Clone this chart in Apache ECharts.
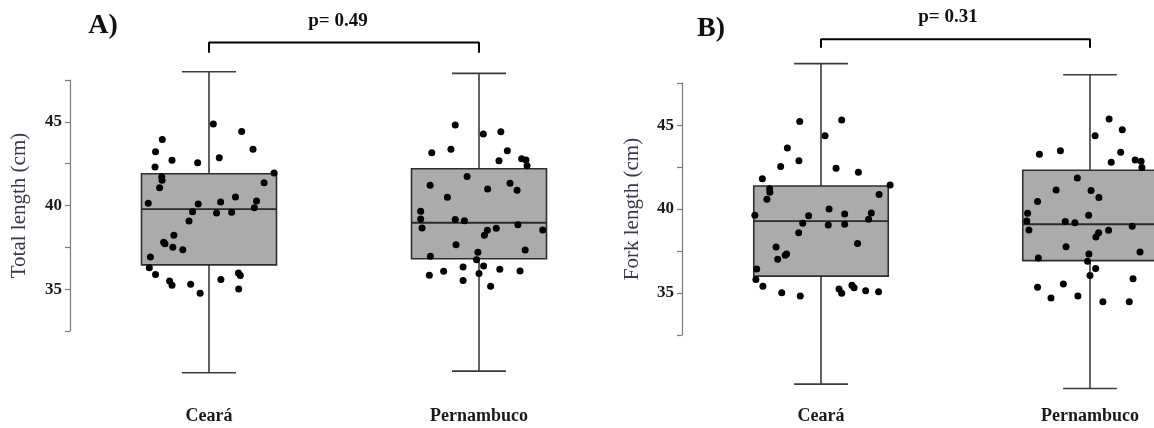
<!DOCTYPE html>
<html>
<head>
<meta charset="utf-8">
<script src="https://cdn.jsdelivr.net/npm/echarts@6/dist/echarts.min.js"></script>
<style>
  html, body { margin: 0; padding: 0; background: #fff; }
  #main { width: 1154px; height: 428px; }
</style>
</head>
<body>
<div id="main"></div>
<script>
// categories and tick labels
var categories = ['Ceará', 'Pernambuco'];
var tickLabels = [35, 40, 45];

// box stats: [min, Q1, median, Q3, max]
var statsTotalCeara = [30.0, 36.45, 39.78, 41.9, 48.0];
var statsTotalPernambuco = [30.1, 36.82, 38.97, 42.2, 47.9];
var statsForkCeara = [29.56, 36.0, 39.28, 41.37, 48.67];
var statsForkPernambuco = [29.3, 36.92, 39.09, 42.31, 48.0];

// individual points (value) and their horizontal jitter (fraction of category band)
var totalCearaValues = [44.87, 44.43, 43.95, 43.36, 43.22, 42.86, 42.70, 42.56, 42.30, 41.94, 41.72, 41.51, 41.36, 41.06, 40.51, 40.13, 40.27, 40.21, 40.09, 39.87, 39.63, 39.55, 39.59, 39.07, 38.22, 37.80, 37.72, 37.50, 37.36, 36.92, 36.28, 35.87, 35.97, 35.81, 35.49, 35.23, 35.29, 35.57, 35.01, 34.76];
var totalCearaJitter = [0.016, 0.121, -0.173, 0.163, -0.198, 0.038, -0.137, -0.042, -0.200, 0.241, -0.175, -0.174, 0.204, -0.183, 0.098, -0.225, 0.176, 0.043, -0.040, 0.168, -0.061, 0.028, 0.084, -0.074, -0.130, -0.168, -0.163, -0.134, -0.097, -0.217, -0.221, -0.198, 0.109, 0.116, -0.146, -0.137, -0.068, 0.044, 0.110, -0.033];

var totalPernambucoValues = [44.81, 44.27, 44.41, 43.15, 43.37, 43.27, 42.68, 42.80, 42.72, 42.38, 41.74, 41.21, 41.33, 40.91, 40.99, 40.49, 39.65, 39.19, 39.17, 39.09, 38.66, 38.85, 38.54, 38.64, 38.52, 38.22, 37.66, 37.34, 37.20, 36.97, 36.76, 36.33, 36.39, 36.07, 35.83, 36.19, 36.09, 35.93, 35.51, 35.17];
var totalPernambucoJitter = [-0.088, 0.016, 0.081, -0.175, -0.104, 0.105, 0.074, 0.158, 0.174, 0.178, -0.044, -0.181, 0.115, 0.141, 0.032, -0.117, -0.216, -0.216, -0.088, -0.054, -0.211, 0.144, 0.236, 0.064, 0.031, 0.020, -0.085, 0.171, -0.004, -0.180, -0.009, -0.059, 0.017, -0.131, -0.184, 0.077, 0.152, 0.000, -0.059, 0.043];

var forkCearaValues = [45.21, 45.31, 44.36, 43.64, 42.88, 42.53, 42.43, 42.19, 41.81, 41.21, 41.00, 40.58, 41.43, 40.86, 39.62, 40.00, 39.60, 39.70, 39.76, 39.39, 39.15, 39.05, 39.09, 38.59, 37.95, 37.73, 37.32, 37.24, 37.00, 36.42, 35.80, 35.39, 35.01, 34.81, 35.23, 34.97, 35.45, 35.30, 35.13, 35.07];
var forkCearaJitter = [-0.079, 0.077, 0.015, -0.125, -0.082, -0.150, 0.056, 0.139, -0.218, -0.191, -0.190, -0.201, 0.257, 0.216, -0.246, 0.030, -0.046, 0.088, 0.187, 0.177, -0.068, 0.027, 0.088, -0.083, 0.136, -0.167, -0.128, -0.133, -0.161, -0.239, -0.242, -0.216, -0.146, -0.077, 0.067, 0.077, 0.115, 0.123, 0.166, 0.214];

var forkPernambucoValues = [45.37, 44.73, 44.37, 43.26, 43.48, 43.38, 42.79, 42.92, 42.84, 42.47, 41.85, 41.13, 41.11, 40.68, 40.44, 39.74, 39.28, 38.75, 39.26, 39.18, 39.62, 38.97, 38.73, 38.59, 38.33, 37.75, 37.43, 37.31, 37.08, 36.88, 36.46, 36.04, 35.84, 35.33, 35.53, 34.69, 34.81, 34.47, 34.47];
var forkPernambucoJitter = [0.071, 0.120, 0.019, -0.188, -0.110, 0.114, 0.079, 0.168, 0.190, 0.193, -0.047, -0.126, 0.004, 0.033, -0.195, -0.232, -0.235, -0.227, -0.092, -0.056, -0.005, 0.157, 0.069, 0.032, 0.022, -0.089, 0.186, -0.004, -0.192, -0.009, 0.021, 0.000, 0.160, -0.195, -0.099, -0.145, -0.045, 0.048, 0.146];

// significance brackets: [tick bottom, bar height]
var bracketTotal = [49.13, 49.75];
var bracketFork = [49.62, 50.12];
var pTotal = 'p= 0.49';
var pFork = 'p= 0.31';

var serif = 'Liberation Serif';

function points(cat, values, jitter) {
    return values.map(function (v, i) { return [cat + jitter[i], v]; });
}
function bracket(b) {
    return [[0, b[0]], [0, b[1]], [1, b[1]], [1, b[0]]];
}

function renderBox(params, api) {
    var x = api.value(0);
    var lo = api.coord([x, api.value(1)]);
    var q1 = api.coord([x, api.value(2)]);
    var md = api.coord([x, api.value(3)]);
    var q3 = api.coord([x, api.value(4)]);
    var hi = api.coord([x, api.value(5)]);
    var unit = api.size([1, 0])[0];
    var bw = unit * 0.25, cw = unit * 0.1;
    var ln = { stroke: '#3a3a3a', lineWidth: 1.6 };
    return {
        type: 'group',
        children: [
            { type: 'line', shape: { x1: lo[0], y1: lo[1], x2: q1[0], y2: q1[1] }, style: ln },
            { type: 'line', shape: { x1: q3[0], y1: q3[1], x2: hi[0], y2: hi[1] }, style: ln },
            { type: 'line', shape: { x1: lo[0] - cw, y1: lo[1], x2: lo[0] + cw, y2: lo[1] }, style: ln },
            { type: 'line', shape: { x1: hi[0] - cw, y1: hi[1], x2: hi[0] + cw, y2: hi[1] }, style: ln },
            { type: 'rect', shape: { x: q3[0] - bw, y: q3[1], width: 2 * bw, height: q1[1] - q3[1] },
              style: { fill: '#ababab', stroke: '#2e2e2e', lineWidth: 1.6 } },
            { type: 'line', shape: { x1: md[0] - bw, y1: md[1], x2: md[0] + bw, y2: md[1] },
              style: { stroke: '#2a2a2a', lineWidth: 1.8 } }
        ]
    };
}

function visibleY(grid, name, gap) {
    return {
        gridIndex: grid, type: 'value', min: 32.5, max: 47.5, interval: 2.5,
        name: name, nameLocation: 'middle', nameRotate: 90, nameGap: gap,
        nameTextStyle: { fontFamily: serif, fontSize: 21, color: '#3c3550' },
        axisLine: { show: true, lineStyle: { color: '#7a7a7a', width: 1.2 } },
        axisTick: { show: true, length: 5, lineStyle: { color: '#7a7a7a', width: 1.2 } },
        axisLabel: {
            margin: 8, fontFamily: serif, fontSize: 17, fontWeight: 'bold', color: '#1a1a1a',
            formatter: function (v) { return tickLabels.indexOf(v) >= 0 ? String(v) : ''; }
        },
        splitLine: { show: false }
    };
}
function hiddenY(grid) {
    return { gridIndex: grid, type: 'value', min: 29, max: 51, show: false, splitLine: { show: false } };
}
function hiddenValueX(grid) {
    return { gridIndex: grid, type: 'value', min: -0.5, max: 1.5, show: false, splitLine: { show: false } };
}
function catX(grid, margin) {
    return {
        gridIndex: grid, type: 'category', data: categories,
        axisLine: { show: false }, axisTick: { show: false },
        axisLabel: { margin: margin, fontFamily: serif, fontSize: 18, fontWeight: 'bold', color: '#1a1a1a' }
    };
}
function boxSeries(xi, yi, a, b) {
    return {
        type: 'custom', xAxisIndex: xi, yAxisIndex: yi, clip: false, z: 2,
        renderItem: renderBox, encode: { x: 0, y: [1, 2, 3, 4, 5] },
        data: [[0].concat(a), [1].concat(b)]
    };
}
function dotSeries(xi, yi, data) {
    return {
        type: 'scatter', xAxisIndex: xi, yAxisIndex: yi, symbolSize: 7, z: 3,
        itemStyle: { color: '#000', opacity: 1 }, data: data
    };
}
function bracketSeries(xi, yi, b) {
    return {
        type: 'line', xAxisIndex: xi, yAxisIndex: yi, symbol: 'none', clip: false,
        lineStyle: { color: '#000', width: 2 }, data: bracket(b)
    };
}
function label(text, x, y, size) {
    return {
        type: 'text', x: x, y: y,
        style: { text: text, fontFamily: serif, fontSize: size, fontWeight: 'bold', fill: '#111',
                 align: 'center', verticalAlign: 'middle' }
    };
}

function grid(left, top, width, height) {
    return { left: left, top: top, width: width, height: height, outerBoundsMode: 'none', containLabel: false };
}

var chart = echarts.init(document.getElementById('main'));
var option = {
    backgroundColor: '#fff',
    animation: false,
    grid: [
        grid(70, 80, 10, 251),
        grid(74, 21.5, 540, 368),
        grid(682, 83.2, 10, 251.6),
        grid(686.5, 24.5, 538, 369)
    ],
    xAxis: [
        { gridIndex: 0, type: 'value', show: false },
        catX(1, 18),
        hiddenValueX(1),
        { gridIndex: 2, type: 'value', show: false },
        catX(3, 14),
        hiddenValueX(3)
    ],
    yAxis: [
        visibleY(0, 'Total length (cm)', 40),
        hiddenY(1),
        visibleY(2, 'Fork length (cm)', 39),
        hiddenY(3)
    ],
    graphic: [
        label('A)', 103, 26, 28),
        label('B)', 711, 29, 28),
        label(pTotal, 338, 21, 19),
        label(pFork, 948, 17, 19)
    ],
    series: [
        boxSeries(2, 1, statsTotalCeara, statsTotalPernambuco),
        dotSeries(2, 1, points(0, totalCearaValues, totalCearaJitter).concat(points(1, totalPernambucoValues, totalPernambucoJitter))),
        bracketSeries(2, 1, bracketTotal),
        boxSeries(5, 3, statsForkCeara, statsForkPernambuco),
        dotSeries(5, 3, points(0, forkCearaValues, forkCearaJitter).concat(points(1, forkPernambucoValues, forkPernambucoJitter))),
        bracketSeries(5, 3, bracketFork)
    ]
};
chart.setOption(option);
window.addEventListener('resize', function () { chart.resize(); });
</script>
</body>
</html>
